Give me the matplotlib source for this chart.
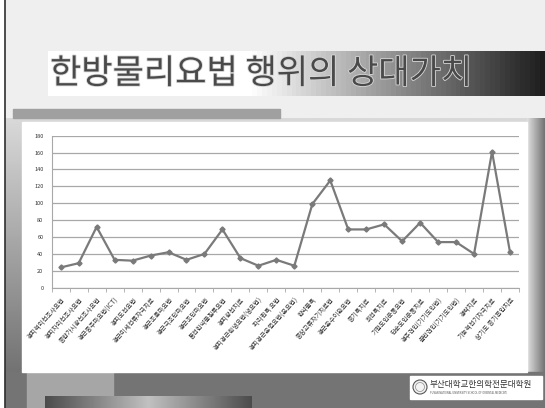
import matplotlib
matplotlib.use('Agg')
import matplotlib.pyplot as plt
import matplotlib.patheffects as pe
from matplotlib.patches import Rectangle, Circle
import numpy as np

plt.rcParams['font.family'] = ['Noto Sans CJK KR', 'DejaVu Sans']

title = '한방물리요법 행위의 상대가치'
labels = ['경피적외선조사요법', '경피자외선조사요법', '종합가시광선조사요법', '경근중주파요법(ICT)',
          '경피도전요법', '경근미세전류자극치료', '경근초음파요법', '경근극초단파요법',
          '경근초단파요법', '통전한약물침투요법', '경피광선치료', '경피경근한냉요법(냉요법)',
          '파라핀욕 요법', '경피경근온열요법(온요법)', '한약물욕', '중장교류자기치료법',
          '경근온수이완요법', '증기욕치료', '회전욕치료', '기혈도인운동요법',
          '단순도인운동치료', '경추견인(기기도인법)', '골반견인(기기도인법)', '경락치료',
          '기능적전기자극치료', '상기도 증기흡입치료']
values = [24, 29, 72, 33, 32, 38, 42, 33, 40, 69, 35, 26, 33, 26,
          99, 127, 69, 69, 75, 55, 77, 54, 54, 40, 161, 42]
yticks = list(range(0, 181, 20))

W, H = 545, 408
fig = plt.figure(figsize=(W / 100, H / 100), dpi=100)

# slide background drawn in pixel coordinates
bg = fig.add_axes([0, 0, 1, 1])
bg.axis('off')
bg.add_patch(Rectangle((0, 0), W, H, color='#ffffff', zorder=0))
bg.add_patch(Rectangle((5, 0), W - 5, 122, color='#efefef', zorder=1))
vert = np.linspace(0.85, 0.45, 100).reshape(-1, 1)
bg.imshow(vert, cmap='gray', vmin=0, vmax=1, extent=(5, W, 372, 118), aspect='auto', zorder=1)
side = np.tile(np.linspace(0.88, 0.45, 60), (100, 1))
bg.imshow(side, cmap='gray', vmin=0, vmax=1, extent=(527, W, 372, 118), aspect='auto', zorder=2)
bg.add_patch(Rectangle((5, 372), W - 5, 36, color='#747474', zorder=2))
bg.add_patch(Rectangle((27, 372), 86, 36, color='#a6a6a6', zorder=3))
bar = np.concatenate([np.linspace(0.3, 0.75, 50), np.linspace(0.75, 0.3, 50)]).reshape(1, -1)
bg.imshow(bar, cmap='gray', vmin=0, vmax=1, extent=(45, 252, 408, 396), aspect='auto', zorder=4)
bg.plot([4.5, 4.5], [0, H], color='#303030', lw=1.2, zorder=5)

# title box with gradient
grad = np.concatenate([np.ones(40), np.linspace(1, 0.12, 60)]).reshape(1, -1)
bg.imshow(grad, cmap='gray', vmin=0, vmax=1, extent=(48, W, 96, 51), aspect='auto', zorder=3)
bg.text(50, 74, title, fontsize=24.5, color='#4a4a4a', va='center', ha='left', zorder=6,
        path_effects=[pe.withStroke(linewidth=1.2, foreground='#d8d8d8')])
bg.add_patch(Rectangle((13, 109), 267, 9, color='#a0a0a0', zorder=3))

# white chart panel
bg.add_patch(Rectangle((22, 122), 505, 250, color='#ffffff', zorder=3))

# logo
bg.add_patch(Rectangle((410, 376), 132, 23, color='#ffffff', zorder=5))
bg.add_patch(Circle((420, 387), 7, facecolor='#f4f4f4', edgecolor='#555555', lw=0.8, zorder=6))
bg.add_patch(Circle((420, 387), 4.5, facecolor='none', edgecolor='#888888', lw=0.5, zorder=6))
bg.text(430, 384, '부산대학교한의학전문대학원', fontsize=6.2, color='#333333', va='center', zorder=6)
bg.text(430, 393, 'PUSAN NATIONAL UNIVERSITY SCHOOL OF ORIENTAL MEDICINE',
        fontsize=1.9, color='#555555', va='center', zorder=6)
bg.set_xlim(0, W)
bg.set_ylim(H, 0)

# chart
ax = fig.add_axes([51.7 / W, 1 - 287.7 / H, (519 - 51.7) / W, (287.7 - 135.7) / H])
ax.set_facecolor('white')
x = np.arange(len(values))
ax.plot(x, values, color='#7a7a7a', lw=1.6, marker='D', markersize=2.6,
        markerfacecolor='#7a7a7a', markeredgecolor='#7a7a7a', zorder=3)
ax.set_xlim(-0.5, len(values) - 0.5)
ax.set_ylim(0, 180)
ax.set_yticks(yticks)
ax.set_yticklabels([str(v) for v in yticks], fontsize=4, color='#333333')
ax.tick_params(axis='y', length=0, pad=6)
ax.grid(axis='y', color='#a8a8a8', lw=0.9)
ax.set_axisbelow(True)
ax.set_xticks(x)
ax.set_xticklabels(labels, rotation=48, ha='right', va='top', rotation_mode='anchor',
                   fontsize=4.6, color='#333333')
ax.tick_params(axis='x', length=0, pad=6)
ax.set_xticks(np.arange(-0.5, len(values), 1), minor=True)
ax.tick_params(axis='x', which='minor', length=3, color='#a8a8a8')
for s in ['top', 'right']:
    ax.spines[s].set_visible(False)
ax.spines['left'].set_color('#a8a8a8')
ax.spines['bottom'].set_color('#a8a8a8')

fig.savefig('out.png', dpi=100)
